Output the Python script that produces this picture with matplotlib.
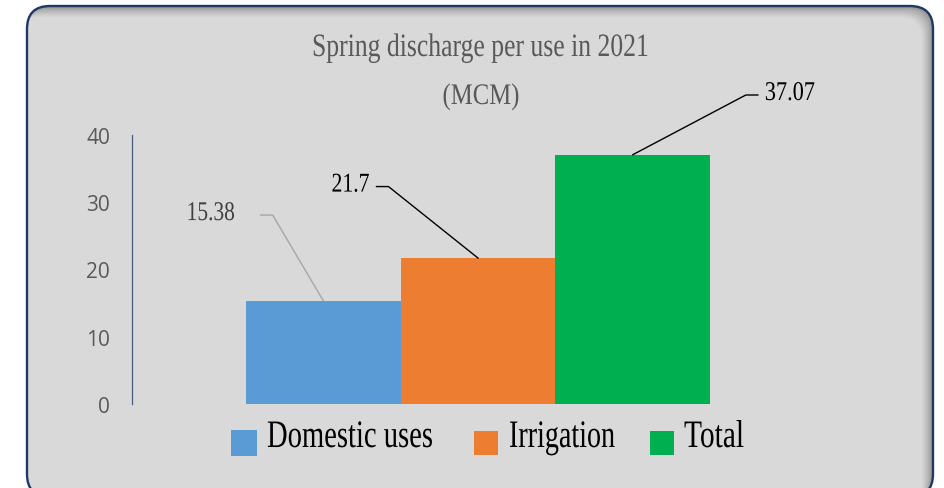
import matplotlib
matplotlib.use("Agg")
import matplotlib.pyplot as plt
import numpy as np
from matplotlib.patches import FancyBboxPatch, Rectangle
from matplotlib.patheffects import AbstractPathEffect
from matplotlib.transforms import Affine2D, IdentityTransform
from matplotlib.lines import Line2D
from matplotlib.colors import to_rgb

# ---------------- data ----------------
categories = ["Domestic uses", "Irrigation", "Total"]
values = [15.38, 21.7, 37.07]
value_labels = ["15.38", "21.7", "37.07"]
colors = ["#5B9BD5", "#ED7D31", "#00B050"]
yticks = [0, 10, 20, 30, 40]
ytick_labels = ["0", "10", "20", "30", "40"]
title_lines = ["Spring discharge per use in 2021", "(MCM)"]

W, H = 945, 489
fig = plt.figure(figsize=(W / 100, H / 100), dpi=100)
fig.patch.set_facecolor("white")
ID = IdentityTransform()


def dy(y_img):
    return H - y_img


class Condense(AbstractPathEffect):
    """Horizontally condense text glyphs around an anchor x (display px)."""

    def __init__(self, sx, x0):
        super().__init__()
        self.sx = sx
        self.x0 = x0

    def draw_path(self, renderer, gc, tpath, affine, rgbFace=None):
        aff = affine + Affine2D().translate(-self.x0, 0).scale(self.sx, 1).translate(self.x0, 0)
        renderer.draw_path(gc, tpath, aff, rgbFace)


# ---------------- background box ----------------
bx0, bx1, btop, bbot, rad = 27, 933, 7, 498, 23
bw, bh = bx1 - bx0, bbot - btop
style = f"round,pad=0,rounding_size={rad}"
box = FancyBboxPatch((bx0, dy(bbot)), bw, bh, boxstyle=style, transform=ID,
                     facecolor="#D9D9D9", edgecolor="none", zorder=-10)
fig.add_artist(box)

N = 11
dark = np.array(to_rgb("#8C8C8C"))
light = np.array(to_rgb("#D9D9D9"))
for k in range(N + 1):
    t = (k / N) ** 0.7
    c = dark * (1 - t) + light * t
    layer = FancyBboxPatch((bx0 - k, dy(bbot) - k), bw, bh, boxstyle=style, transform=ID,
                           facecolor=c, edgecolor="none", zorder=-9)
    layer.set_clip_path(box)
    fig.add_artist(layer)

border = FancyBboxPatch((bx0, dy(bbot)), bw, bh, boxstyle=style, transform=ID,
                        facecolor="none", edgecolor="#1F3864", linewidth=1.7, zorder=-5)
fig.add_artist(border)

# ---------------- axes & bars ----------------
ax = fig.add_axes([132 / W, (H - 405) / H, (824 - 132) / W, (405 - 136) / H])
ax.set_facecolor("none")
x = np.arange(len(values))
ax.bar(x, values, width=1.0, color=colors, zorder=2)
ax.set_xlim(-1.235, 3.235)
ax.set_ylim(0, 40)
ax.set_yticks(yticks)
ax.set_yticklabels(ytick_labels, fontfamily="Open Sans", fontsize=15, color="#595959")
ax.set_xticks([])
ax.tick_params(axis="y", length=0, pad=15.8)
for s in ["top", "right", "bottom"]:
    ax.spines[s].set_visible(False)
ax.spines["left"].set_color("#4A5A85")
ax.spines["left"].set_linewidth(0.9)

fig.canvas.draw()
renderer = fig.canvas.get_renderer()

SERIF = "Liberation Serif"


def ctext(xp, yp, s, target_w, **kw):
    t = fig.text(xp, yp, s, transform=ID, fontfamily=SERIF, **kw)
    w = t.get_window_extent(renderer).width
    t.set_path_effects([Condense(target_w / w, xp)])
    return t


# ---------------- title ----------------
ctext(480, dy(57), title_lines[0], 336, fontsize=23.5, color="#595959", ha="center", va="baseline")
ctext(481, dy(105), title_lines[1], 77, fontsize=21.5, color="#595959", ha="center", va="baseline")

# ---------------- data labels with leader lines ----------------
# (elbow offset dx, dy up), horizontal segment dx, text gap, text width, colours
label_layout = [
    dict(off=(-50.5, 85.5), hseg=-12, gap=-26, tw=48, tc="#404040", lc="#A6A6A6"),
    dict(off=(-89.5, 71.5), hseg=-12, gap=-7, tw=38, tc="#000000", lc="#000000"),
    dict(off=(113.0, 59.7), hseg=12, gap=7, tw=50, tc="#000000", lc="#000000"),
]
for i, (v, lab, L) in enumerate(zip(values, value_labels, label_layout)):
    px, py = ax.transData.transform((x[i], v))
    ex, ey = px + L["off"][0], py + L["off"][1]
    hx = ex + L["hseg"]
    fig.add_artist(Line2D([px, ex, hx], [py, ey, ey], transform=ID, color=L["lc"],
                          linewidth=1.0, zorder=5))
    ha = "right" if L["gap"] < 0 else "left"
    ctext(hx + L["gap"], ey - 5, lab, L["tw"], fontsize=19.5, color=L["tc"],
          ha=ha, va="baseline", zorder=6)

# ---------------- legend ----------------
sq_left = [231, 474, 650]
sq_size = [26, 24, 24]
txt_left = [267, 509, 684]
txt_w = [166, 106, 60]
for i, cat in enumerate(categories):
    s = sq_size[i]
    fig.add_artist(Rectangle((sq_left[i], dy(444) - s / 2), s, s, transform=ID,
                             facecolor=colors[i], edgecolor="none", zorder=5))
    ctext(txt_left[i], dy(448), cat, txt_w[i], fontsize=28, color="#000000",
          ha="left", va="baseline", zorder=6)

fig.savefig("out.png", dpi=100, facecolor="white")
